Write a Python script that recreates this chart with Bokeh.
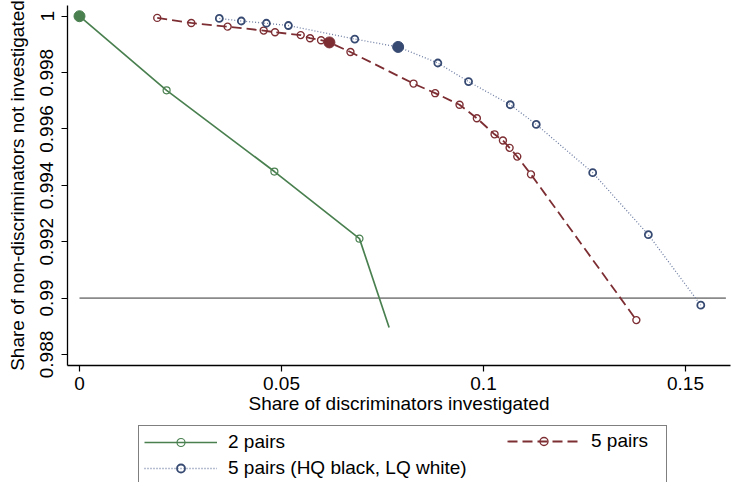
from bokeh.plotting import figure
from bokeh.layouts import column
from bokeh.models import Range1d, FixedTicker, Legend, LegendItem
from bokeh.embed import file_html
from bokeh.resources import INLINE

# ---- data ----
# 2 pairs
two_x = [0.0, 0.02156, 0.04824, 0.0693, 0.07664]
two_y = [1.0, 0.99737, 0.99449, 0.99211, 0.98896]
two_mx = [0.02156, 0.04824, 0.0693]
two_my = [0.99737, 0.99449, 0.99211]
two_hx = [0.0]
two_hy = [1.0]

# 5 pairs
five_x = [0.01924, 0.02767, 0.03667, 0.04559, 0.0484, 0.05476, 0.05707, 0.05979,
          0.06186, 0.06707, 0.08268, 0.08804, 0.09407, 0.09836, 0.10274, 0.10481,
          0.10646, 0.10836, 0.11175, 0.13784]
five_y = [0.99994, 0.99976, 0.99963, 0.99949, 0.99943, 0.99933, 0.99922, 0.99915,
          0.99907, 0.99873, 0.99761, 0.99727, 0.99686, 0.99638, 0.99581, 0.99559,
          0.99533, 0.99502, 0.99439, 0.98922]
five_hx = [0.06186]
five_hy = [0.99907]

# 5 pairs (HQ black, LQ white)
hq_x = [0.03461, 0.04006, 0.04626, 0.05171, 0.06814, 0.07887, 0.0887, 0.0963,
        0.10662, 0.11306, 0.12703, 0.14081, 0.15379]
hq_y = [0.99992, 0.99983, 0.99975, 0.99967, 0.99919, 0.99891, 0.99834, 0.99768,
        0.99686, 0.99616, 0.99445, 0.99225, 0.98975]
hq_hx = [0.07887]
hq_hy = [0.99891]

# reference line
ref_x = [0.0, 0.16]
ref_y = [0.99, 0.99]

x_ticks = [0.0, 0.05, 0.1, 0.15]
x_tick_labels = ["0", "0.05", "0.1", "0.15"]
y_ticks = [0.988, 0.99, 0.992, 0.994, 0.996, 0.998, 1.0]
y_tick_labels = ["0.988", "0.99", "0.992", "0.994", "0.996", "0.998", "1"]

series_labels = ["2 pairs", "5 pairs", "5 pairs (HQ black, LQ white)"]

GREEN = "#4a8050"
RED = "#7d2e33"
BLUE = "#374a72"
BLUE_LINE = "#6f7ea3"
FONT = "Liberation Sans"

g_line_style = dict(line_color=GREEN, line_width=1.7)
g_pt_style = dict(marker="circle", fill_color=None, line_color=GREEN, line_width=1.2)
r_line_style = dict(line_color=RED, line_width=1.8, line_dash="10 5")
r_pt_style = dict(marker="circle", fill_color=None, line_color=RED, line_width=1.4)
b_line_style = dict(line_color=BLUE_LINE, line_width=1.3, line_dash="1 2")
b_pt_style = dict(marker="circle", fill_color=None, line_color=BLUE, line_width=1.8)

p = figure(width=732, height=422, output_backend="svg", toolbar_location=None,
           x_range=Range1d(-0.00297, 0.16114), y_range=Range1d(0.98761, 1.00038),
           min_border_left=67, min_border_right=2, min_border_top=5,
           min_border_bottom=57)
p.outline_line_color = None
p.xgrid.visible = False
p.ygrid.visible = False
p.background_fill_color = "white"

# reference line
p.line(ref_x, ref_y, line_color="#8a8a8a", line_width=1.6)

# 2 pairs
p.line(two_x, two_y, **g_line_style)
p.scatter(two_mx, two_my, size=7, **g_pt_style)
p.scatter(two_hx, two_hy, marker="circle", size=11, fill_color=GREEN, line_color=GREEN)

# 5 pairs
p.line(five_x, five_y, **r_line_style)
mask = [i for i in range(len(five_x)) if five_x[i] not in five_hx]
p.scatter([five_x[i] for i in mask], [five_y[i] for i in mask], size=7, **r_pt_style)
p.scatter(five_hx, five_hy, marker="circle", size=11, fill_color=RED, line_color=RED)

# 5 pairs HQ
p.line(hq_x, hq_y, **b_line_style)
maskb = [i for i in range(len(hq_x)) if hq_x[i] not in hq_hx]
p.scatter([hq_x[i] for i in maskb], [hq_y[i] for i in maskb], size=7, **b_pt_style)
p.scatter(hq_hx, hq_hy, marker="circle", size=11, fill_color=BLUE, line_color=BLUE)

# axes
for ax in (p.xaxis, p.yaxis):
    ax.axis_line_color = "black"
    ax.axis_line_width = 1.3
    ax.major_tick_line_color = "black"
    ax.major_tick_line_width = 1.2
    ax.major_tick_out = 6
    ax.major_tick_in = 0
    ax.minor_tick_line_color = None
    ax.major_label_text_font = FONT
    ax.major_label_text_font_size = "19px"
    ax.major_label_text_color = "black"
    ax.axis_label_text_font = FONT
    ax.axis_label_text_font_size = "19px"
    ax.axis_label_text_font_style = "normal"
    ax.axis_label_text_color = "black"

p.xaxis.ticker = FixedTicker(ticks=x_ticks)
p.xaxis.major_label_overrides = dict(zip(x_ticks, x_tick_labels))
p.xaxis.axis_label = "Share of discriminators investigated"
p.xaxis.major_label_standoff = 5
p.xaxis.axis_label_standoff = 0

p.yaxis.ticker = FixedTicker(ticks=y_ticks)
p.yaxis.major_label_overrides = dict(zip(y_ticks, y_tick_labels))
p.yaxis.axis_label = "Share of non-discriminators not investigated"
p.yaxis.major_label_orientation = "vertical"
p.yaxis.major_label_standoff = 8
p.yaxis.axis_label_standoff = 10

# ---- legend strip (its frame is aligned with the main plot's frame) ----
lf = figure(width=732, height=60, output_backend="svg", toolbar_location=None,
            x_axis_type=None, y_axis_type=None, min_border=0,
            x_range=Range1d(10, 11), y_range=Range1d(10, 11))
lf.outline_line_color = None
lf.xgrid.visible = False
lf.ygrid.visible = False

# legend-only renderers (their data lies outside this strip's ranges)
lg_g_line = lf.line(two_x, two_y, **g_line_style)
lg_g_pt = lf.scatter(two_mx, two_my, size=5, **g_pt_style)
lg_r_line = lf.line(five_x, five_y, **r_line_style)
lg_r_pt = lf.scatter(five_x, five_y, size=5, **r_pt_style)
lg_b_line = lf.line(hq_x, hq_y, **b_line_style)
lg_b_pt = lf.scatter(hq_x, hq_y, size=5, **b_pt_style)

common = dict(label_text_font=FONT, label_text_font_size="19px",
              label_text_color="black", glyph_width=73, glyph_height=20,
              label_height=20, label_standoff=11, padding=5, spacing=4,
              margin=0)

legA = Legend(items=[LegendItem(label=series_labels[0], renderers=[lg_g_line, lg_g_pt]),
                     LegendItem(label=series_labels[2], renderers=[lg_b_line, lg_b_pt])],
              location=(71, -2.5), orientation="vertical",
              border_line_color="black", border_line_width=1,
              background_fill_color="white", background_fill_alpha=1,
              label_width=433, **common)
legB = Legend(items=[LegendItem(label=series_labels[1], renderers=[lg_r_line, lg_r_pt])],
              location=(440, 30.5), orientation="vertical",
              border_line_color=None, background_fill_alpha=0,
              **common)
lf.add_layout(legA, "center")
lf.add_layout(legB, "center")

layout = column(p, lf, spacing=0)
open("out.html", "w").write(file_html(layout, INLINE))
